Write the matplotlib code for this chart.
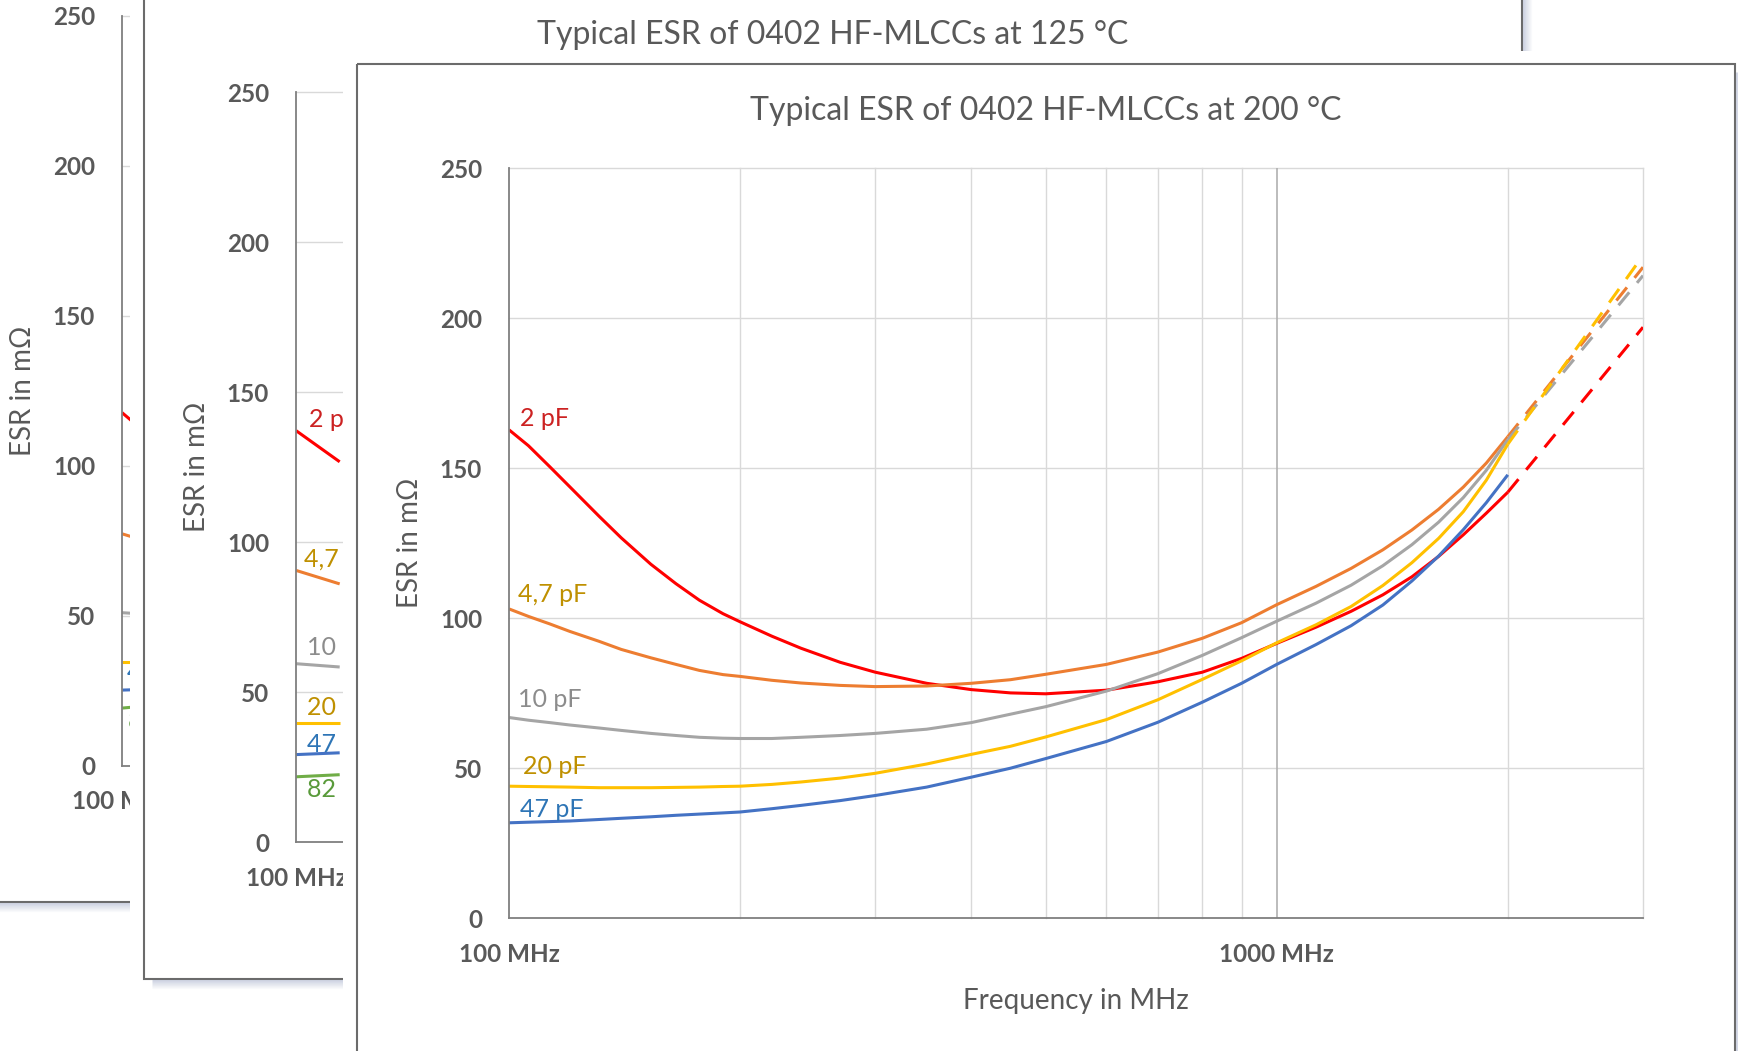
import matplotlib.pyplot as plt
from matplotlib.patches import Rectangle
from matplotlib.ticker import NullLocator

plt.rcParams['font.family'] = ['Lato', 'DejaVu Sans']

# ── canvas / window geometry (pixels) ──────────────────
W, H = 1738, 1051
PW, PH = 1378, 991          # size of one chart window
GREY_TXT = '#595959'

# ── data ───────────────────────────────────────────────
# front window: 200 °C
freq = [100, 106, 113, 120, 131, 140, 153, 165, 177, 190, 200, 220, 240, 270,
        300, 350, 400, 450, 500, 600, 700, 800, 900, 1000, 1125, 1250, 1375,
        1500, 1625, 1750, 1875, 2000]
esr_2pf  = [162.8, 157.5, 150.5, 143.8, 134.0, 126.8, 118.0, 111.5, 106.0, 101.5,
            98.8, 94.0, 90.0, 85.3, 82.0, 78.3, 76.2, 75.1, 74.8, 76.0, 78.8,
            82.0, 86.6, 91.6, 97.0, 102.3, 107.8, 113.8, 120.6, 127.8, 135.0, 142.0]
esr_4p7  = [103.1, 100.6, 98.1, 95.6, 92.3, 89.6, 86.8, 84.6, 82.6, 81.2,
            80.6, 79.3, 78.4, 77.6, 77.2, 77.4, 78.3, 79.5, 81.3, 84.6, 88.7,
            93.3, 98.5, 104.5, 110.6, 116.6, 122.8, 129.4, 136.3, 143.7, 151.7, 160.5]
esr_10pf = [66.9, 66.0, 65.2, 64.4, 63.4, 62.6, 61.6, 60.9, 60.3, 60.0,
            59.9, 59.9, 60.3, 60.9, 61.6, 63.0, 65.2, 68.0, 70.5, 75.7, 81.5,
            87.6, 93.5, 99.0, 105.0, 111.0, 117.5, 124.5, 132.0, 140.2, 149.3, 159.5]
esr_20pf = [44.0, 43.9, 43.8, 43.7, 43.5, 43.5, 43.5, 43.6, 43.7, 43.9,
            44.0, 44.6, 45.4, 46.7, 48.3, 51.4, 54.6, 57.3, 60.4, 66.2, 72.8,
            79.6, 85.8, 91.8, 97.8, 103.9, 110.9, 118.5, 126.6, 135.5, 146.0, 158.0]
esr_47pf = [31.8, 32.0, 32.2, 32.4, 32.9, 33.3, 33.8, 34.3, 34.7, 35.1,
            35.4, 36.5, 37.6, 39.2, 40.9, 43.7, 47.0, 50.0, 53.2, 58.9, 65.3,
            72.0, 78.3, 84.6, 91.2, 97.5, 104.4, 112.4, 120.7, 129.5, 138.5, 147.8]

# extrapolated (dashed) part
freq_ext = [2000, 3000]
ext_2pf  = [142.0, 197.0]
ext_4p7  = [160.5, 217.0]
ext_10pf = [159.5, 214.2]
ext_20pf = [158.0, 220.9]

# middle window: 125 °C (only the left edge is visible)
freq_125 = [100, 114]
esr125_2pf  = [137.2, 126.8]
esr125_4p7  = [90.6, 86.1]
esr125_10pf = [59.5, 58.4]
esr125_20pf = [39.8, 39.8]
esr125_47pf = [29.2, 29.8]
esr125_82pf = [21.8, 22.5]

# back window (only a sliver is visible)
freq_back = [100, 103]
esrb_2pf  = [117.7, 114.9]
esrb_4p7  = [77.3, 76.3]
esrb_10pf = [51.0, 50.8]
esrb_20pf = [34.7, 34.7]
esrb_47pf = [25.2, 25.3]
esrb_82pf = [19.2, 19.5]

cap_names = ['2 pF', '4,7 pF', '10 pF', '20 pF', '47 pF', '82 pF']
line_cols = ['#ff0000', '#ed7d31', '#a5a5a5', '#ffc000', '#4472c4', '#70ad47']
text_cols = ['#cc2222', '#bf9000', '#8c8c8c', '#bf9000', '#2e75b6', '#599a3a']

# labels: (series index, baseline in mΩ, x offset from the y axis in px)
labels_200 = [(0, 164.2, 11), (1, 105.3, 9), (2, 70.3, 9), (3, 48.1, 14),
              (4, 33.7, 11)]
labels_125 = [(0, 138.3, 13), (1, 91.8, 8), (2, 62.4, 11), (3, 42.4, 11),
              (4, 30.1, 11), (5, 15.2, 11)]
labels_back = [(4, 28.7, 5), (5, 12.1, 6)]   # only these peek out

fig = plt.figure(figsize=(W / 100, H / 100), dpi=100)


def px_rect(left, top, w, h):
    return [left / W, 1 - (top + h) / H, w / W, h / H]


def window(fx, fy, z, title, solid, dashed, labels):
    # ── card: shadow, white window, border, title ──
    card = fig.add_axes([0, 0, 1, 1], zorder=z)
    card.set_xlim(0, W); card.set_ylim(H, 0); card.axis('off')
    for i in range(1, 10):
        a = 0.42 * (1 - i / 10)
        card.plot([fx + PW + i] * 2, [fy + 8, fy + PH + i], color='#8a97ba',
                  alpha=a, lw=0.8, solid_capstyle='butt')
        card.plot([fx + 8, fx + PW + i - 1], [fy + PH + i] * 2, color='#8a97ba',
                  alpha=a, lw=0.8, solid_capstyle='butt')
    card.add_patch(Rectangle((fx - 14, fy - 13), PW + 14, PH + 13,
                             fc='white', ec='none'))
    card.add_patch(Rectangle((fx, fy), PW, PH, fill=False,
                             ec='#6b6b6b', lw=1.5))
    if title:
        card.text(fx + 689, fy + 57, title, ha='center', va='baseline',
                  fontsize=23, color=GREY_TXT)

    # ── plot area ──
    ax = fig.add_axes(px_rect(fx + 152, fy + 104.7, 1134, 750), zorder=z + 1)
    ax.set_facecolor('none')
    ax.set_xscale('log')
    ax.set_xlim(100, 3000); ax.set_ylim(0, 250)
    for s in ['top', 'right']:
        ax.spines[s].set_visible(False)
    for s in ['left', 'bottom']:
        ax.spines[s].set_color('#7f7f7f'); ax.spines[s].set_linewidth(1.3)
        ax.spines[s].set_zorder(3)

    for yg in [50, 100, 150, 200, 250]:
        ax.axhline(yg, color='#d9d9d9', lw=1.0, zorder=0.5, clip_on=False)
    for fg in [200, 300, 400, 500, 600, 700, 800, 900, 2000, 3000]:
        ax.axvline(fg, color='#d9d9d9', lw=1.0, zorder=0.5, clip_on=False)
    ax.axvline(1000, color='#b0b0b0', lw=1.2, zorder=0.6)

    ax.set_yticks([0, 50, 100, 150, 200, 250],
                  labels=['0', '50', '100', '150', '200', '250'],
                  fontweight='bold')
    ax.set_xticks([100, 1000], labels=['100 MHz', '1000 MHz'], fontweight='bold')
    ax.xaxis.set_minor_locator(NullLocator())
    ax.tick_params(axis='both', length=0, labelsize=17.5, labelcolor=GREY_TXT)
    ax.tick_params(axis='y', pad=19.4)
    ax.tick_params(axis='x', pad=17.5)

    ax.set_ylabel('ESR in mΩ', fontsize=20, color=GREY_TXT, va='center')
    ax.yaxis.set_label_coords(-99 / 1134, 0.5)
    ax.set_xlabel('Frequency in MHz', fontsize=20, color=GREY_TXT, va='center')
    ax.xaxis.set_label_coords(0.5, -83 / 750)

    fx_, series = solid
    for k, vals in enumerate(series):
        ax.plot(fx_, vals, color=line_cols[k], lw=2.2, zorder=2,
                solid_capstyle='butt', solid_joinstyle='round')
    if dashed:
        fe, ext = dashed
        for k, vals in enumerate(ext):
            ax.plot(fe, vals, color=line_cols[k], lw=2.2, zorder=2,
                    ls=(0, (5.5, 4)))

    for k, yv, dx in labels:
        ax.annotate(cap_names[k], xy=(100, yv), xytext=(dx * 0.72, 0),
                    textcoords='offset points', ha='left', va='baseline',
                    fontsize=18, color=text_cols[k], annotation_clip=False)
    return ax


# back window
window(-30, -89, 1, None,
       (freq_back, [esrb_2pf, esrb_4p7, esrb_10pf, esrb_20pf, esrb_47pf, esrb_82pf]),
       None, labels_back)

# 125 °C window
window(144, -12.5, 4, 'Typical ESR of 0402 HF-MLCCs at 125 °C',
       (freq_125, [esr125_2pf, esr125_4p7, esr125_10pf, esr125_20pf,
                   esr125_47pf, esr125_82pf]),
       None, labels_125)

# 200 °C window (front)
window(357, 63.5, 7, 'Typical ESR of 0402 HF-MLCCs at 200 °C',
       (freq, [esr_2pf, esr_4p7, esr_10pf, esr_20pf, esr_47pf]),
       (freq_ext, [ext_2pf, ext_4p7, ext_10pf, ext_20pf]),
       labels_200)

fig.savefig('out.png', dpi=100)
